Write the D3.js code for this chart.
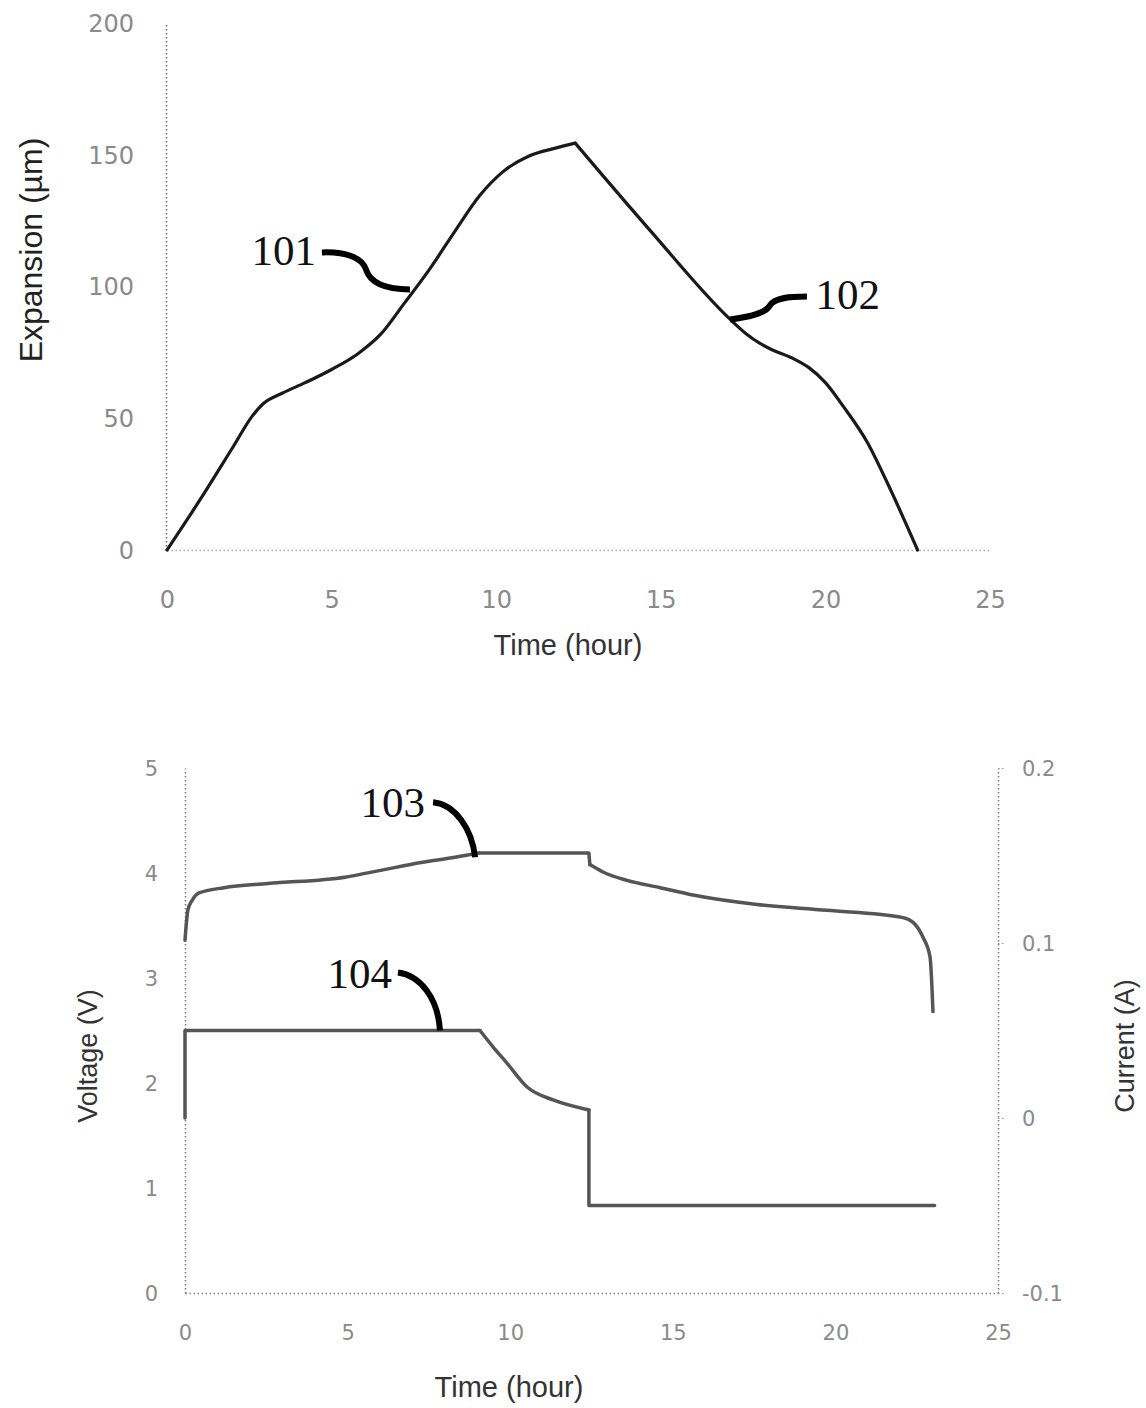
<!DOCTYPE html>
<html>
<head>
<meta charset="utf-8">
<script src="https://cdn.jsdelivr.net/npm/d3@7"></script>
<style>
body { margin: 0; background: #fff; }
</style>
</head>
<body>
<div id="chart"></div>
<script>
// tick values
var xTicks = [0, 5, 10, 15, 20, 25];
var expTicks = [0, 50, 100, 150, 200];
var voltTicks = [0, 1, 2, 3, 4, 5];
var currTicks = [-0.1, 0, 0.1, 0.2];

// expansion curve (top chart)
var expTime  = [0, 1, 2, 2.6, 2.92, 3.5, 4.2, 5.0, 5.8, 6.5, 7.2, 8.0, 8.8, 9.5, 10.2, 11.0, 11.8, 12.4, 14.68, 17.11, 17.6, 18.0, 18.33, 19.0, 19.5, 20.0, 20.55, 21.28, 21.88, 22.8];
var expValue = [0, 19, 39, 51, 55.5, 59.5, 63.5, 68.5, 74.5, 82, 93.5, 107, 122, 134.5, 143.5, 149.5, 152.5, 154.4, 121.2, 87.5, 82, 78.5, 76.3, 72.8, 69.2, 63.5, 54.4, 40.7, 25.5, 0];

// voltage (bottom chart, left axis)
var voltTime  = [0, 0.09, 0.22, 0.43, 1.2, 2.55, 4.92, 6.09, 7.26, 8.3, 9.04, 12.42, 12.45, 12.85, 13.59, 14.61, 15.62, 17.59, 19.74, 22.08, 22.39, 22.69, 22.91, 23.0];
var voltValue = [3.36, 3.65, 3.74, 3.81, 3.86, 3.90, 3.96, 4.03, 4.10, 4.15, 4.19, 4.19, 4.08, 4.01, 3.93, 3.86, 3.79, 3.70, 3.645, 3.575, 3.53, 3.39, 3.2, 2.68];

// current (bottom chart, right axis)
var currTime  = [0, 0, 9.07, 9.47, 9.9, 10.52, 11.32, 12.42, 12.42, 23.05];
var currValue = [0, 0.05, 0.05, 0.0407, 0.0314, 0.0177, 0.0103, 0.0046, -0.05, -0.05];

var tickFont = "DejaVu Sans";
var titleFont = "Liberation Sans";

var svg = d3.select("#chart")
            .append("svg")
            .attr("width", 1146)
            .attr("height", 1408)
            .style("background", "#fff");

// draw a series in pieces so the sharp corners stay sharp
function drawSeries(times, values, x, y, pieces, color, width) {
  var pts = times.map(function(t, i) { return {t: t, v: values[i]}; });
  pieces.forEach(function(p) {
    svg.append("path")
      .datum(pts.slice(p[0], p[1] + 1))
      .attr("fill", "none")
      .attr("stroke", color)
      .attr("stroke-width", width)
      .attr("stroke-linejoin", "round")
      .attr("stroke-linecap", "round")
      .attr("d", d3.line()
        .curve(p[2] ? d3.curveMonotoneX : d3.curveLinear)
        .x(function(d) { return x(d.t); })
        .y(function(d) { return y(d.v); }));
  });
}

// ---------- top chart ----------
var x1 = d3.scaleLinear().domain([0, 25]).range([167, 990]);
var y1 = d3.scaleLinear().domain([0, 200]).range([550, 23]);

var gx1 = svg.append("g")
  .attr("transform", "translate(0,550)")
  .call(d3.axisBottom(x1).tickValues(xTicks).tickSize(0));
gx1.select(".domain").attr("stroke", "#aaa").attr("stroke-width", 1.5).attr("stroke-dasharray", "1.5,2.5");
gx1.selectAll("text").attr("y", 50).attr("dy", "0.35em")
  .attr("font-size", 24).attr("font-family", tickFont).attr("fill", "#8a8a8a");

var gy1 = svg.append("g")
  .attr("transform", "translate(166,0)")
  .call(d3.axisLeft(y1).tickValues(expTicks).tickSize(0));
gy1.select(".domain").attr("stroke", "#666").attr("stroke-width", 1.5).attr("stroke-dasharray", "1.5,2.5");
gy1.selectAll("text").attr("x", -32).attr("dy", "0.35em")
  .attr("font-size", 24).attr("font-family", tickFont).attr("fill", "#8a8a8a");

drawSeries(expTime, expValue, x1, y1, [[0, 17, true], [17, 29, true]], "#1a1a1a", 3.2);

svg.append("text")
  .attr("transform", "translate(42,250) rotate(-90)")
  .attr("text-anchor", "middle")
  .attr("font-family", titleFont)
  .attr("font-size", 32)
  .attr("fill", "#222")
  .text("Expansion (µm)");

svg.append("text")
  .attr("x", 568).attr("y", 655)
  .attr("text-anchor", "middle")
  .attr("font-family", titleFont)
  .attr("font-size", 29)
  .attr("fill", "#333")
  .text("Time (hour)");

// ---------- bottom chart ----------
var x2 = d3.scaleLinear().domain([0, 25]).range([185, 998]);
var yV = d3.scaleLinear().domain([0, 5]).range([1293, 768]);
var yI = d3.scaleLinear().domain([-0.1, 0.2]).range([1293, 768]);

var gx2 = svg.append("g")
  .attr("transform", "translate(0,1293)")
  .call(d3.axisBottom(x2).tickValues(xTicks).tickSize(0));
gx2.select(".domain").attr("stroke", "#888").attr("stroke-width", 1.5).attr("stroke-dasharray", "1.5,2.5");
gx2.selectAll("text").attr("y", 40).attr("dy", "0.35em")
  .attr("font-size", 21).attr("font-family", tickFont).attr("fill", "#8a8a8a");

var gyV = svg.append("g")
  .attr("transform", "translate(185,0)")
  .call(d3.axisLeft(yV).tickValues(voltTicks).tickSize(0)
        .tickFormat(function(d) { return String(d); }));
gyV.select(".domain").attr("stroke", "#777").attr("stroke-width", 1.5).attr("stroke-dasharray", "1.5,2.5");
gyV.selectAll("text").attr("x", -27).attr("dy", "0.35em")
  .attr("font-size", 21).attr("font-family", tickFont).attr("fill", "#8a8a8a");

var gyI = svg.append("g")
  .attr("transform", "translate(998,0)")
  .call(d3.axisRight(yI).tickValues(currTicks).tickSizeInner(6).tickSizeOuter(0)
        .tickFormat(function(d) { return String(d); }));
gyI.select(".domain").attr("stroke", "#777").attr("stroke-width", 1.5).attr("stroke-dasharray", "1.5,2.5");
gyI.selectAll(".tick line").attr("stroke", "#999").attr("stroke-dasharray", "1.5,2.5");
gyI.selectAll("text").attr("x", 24).attr("dy", "0.35em")
  .attr("font-size", 21).attr("font-family", tickFont).attr("fill", "#8a8a8a");

drawSeries(voltTime, voltValue, x2, yV,
  [[0, 10, true], [10, 12, false], [12, 23, true]], "#555", 3.5);
drawSeries(currTime, currValue, x2, yI,
  [[0, 2, false], [2, 7, true], [7, 9, false]], "#555", 3.5);

svg.append("text")
  .attr("transform", "translate(97,1056) rotate(-90)")
  .attr("text-anchor", "middle")
  .attr("font-family", titleFont)
  .attr("font-size", 27)
  .attr("fill", "#333")
  .text("Voltage (V)");

svg.append("text")
  .attr("transform", "translate(1134,1046) rotate(-90)")
  .attr("text-anchor", "middle")
  .attr("font-family", titleFont)
  .attr("font-size", 27)
  .attr("fill", "#333")
  .text("Current (A)");

svg.append("text")
  .attr("x", 509).attr("y", 1397)
  .attr("text-anchor", "middle")
  .attr("font-family", titleFont)
  .attr("font-size", 29)
  .attr("fill", "#333")
  .text("Time (hour)");

// ---------- callouts (anchored on curve points) ----------
function callout(px, py, label, tx, ty, leader) {
  var g = svg.append("g").attr("transform", "translate(" + px + "," + py + ")");
  g.append("path")
    .attr("d", leader)
    .attr("fill", "none")
    .attr("stroke", "#000")
    .attr("stroke-width", 6);
  g.append("text")
    .attr("x", tx).attr("y", ty)
    .attr("text-anchor", "end")
    .attr("font-family", "Liberation Serif")
    .attr("font-size", 43)
    .attr("fill", "#111")
    .text(label);
}

callout(x1(7.38), y1(98.9), "101", -94, -24,
  "M-88,-37 C-65,-38 -48,-32 -44,-20 C-40,-7 -25,0 0,0");
callout(x1(17.1), y1(87.5), "102", 150, -10,
  "M77,-23 C60,-23 45,-22 40,-14 C35,-5 15,-2 0,0");
callout(x2(8.92), yV(4.15), "103", -50, -40,
  "M-42,-55 C-20,-53 -3,-28 0,0");
callout(x2(7.84), yI(0.05), "104", -48, -43,
  "M-42,-58 C-20,-55 -2,-33 0,0");
</script>
</body>
</html>
